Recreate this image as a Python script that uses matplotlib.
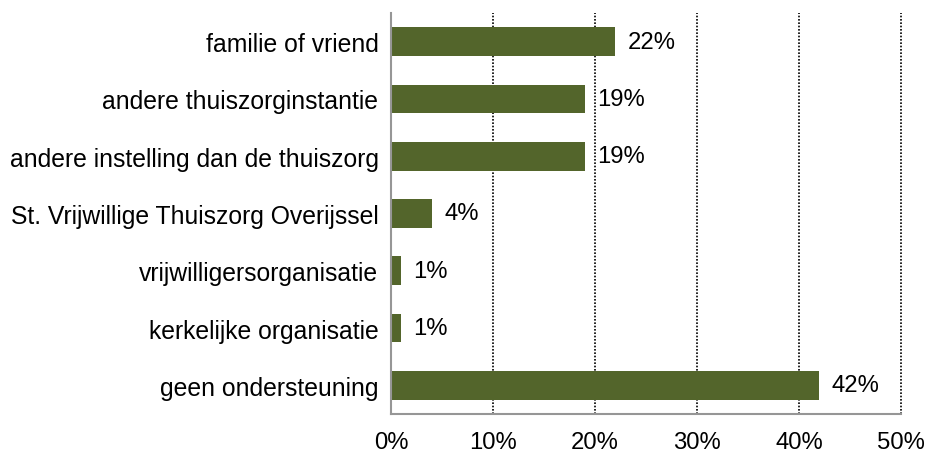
import matplotlib
matplotlib.use("Agg")
import matplotlib.pyplot as plt
from matplotlib.ticker import FuncFormatter

categories = ["familie of vriend", "andere thuiszorginstantie", "andere instelling dan de thuiszorg",
              "St. Vrijwillige Thuiszorg Overijssel", "vrijwilligersorganisatie",
              "kerkelijke organisatie", "geen ondersteuning"]
values = [22, 19, 19, 4, 1, 1, 42]
xticks = [0, 10, 20, 30, 40, 50]

plt.rcParams['font.family'] = ['Liberation Sans', 'DejaVu Sans']
FS = 17.8

fig = plt.figure(figsize=(9.25, 4.52), dpi=100)
ax = fig.add_axes([391/925, 1-415/452, (901-391)/925, (415-14)/452])

ypos = list(range(len(categories)))[::-1]
ax.barh(ypos, values, height=0.5, color="#53652B", zorder=3)
for y, v in zip(ypos, values):
    ax.text(v + 1.2, y, f"{v}%", va="center", ha="left", fontsize=17.2, color="black")

ax.set_ylim(-0.5, len(categories) - 0.5)
ax.set_xlim(0, 50)
ax.set_yticks(ypos)
ax.set_yticklabels(categories, fontsize=FS)
ax.set_xticks(xticks)
ax.xaxis.set_major_formatter(FuncFormatter(lambda x, p: f"{int(x)}%"))
ax.tick_params(axis='x', labelsize=17.2, length=0, pad=12)
ax.tick_params(axis='y', length=0, pad=9)
for xv in xticks[1:]:
    ax.axvline(xv, color='black', linestyle=(0, (1.0, 1.0)), linewidth=1.2, zorder=1, clip_on=False)
for s in ['top', 'right']:
    ax.spines[s].set_visible(False)
for s in ['left', 'bottom']:
    ax.spines[s].set_color('#969696')
    ax.spines[s].set_linewidth(1.5)
    ax.spines[s].set_zorder(4)

fig.savefig("out.png", dpi=100)
